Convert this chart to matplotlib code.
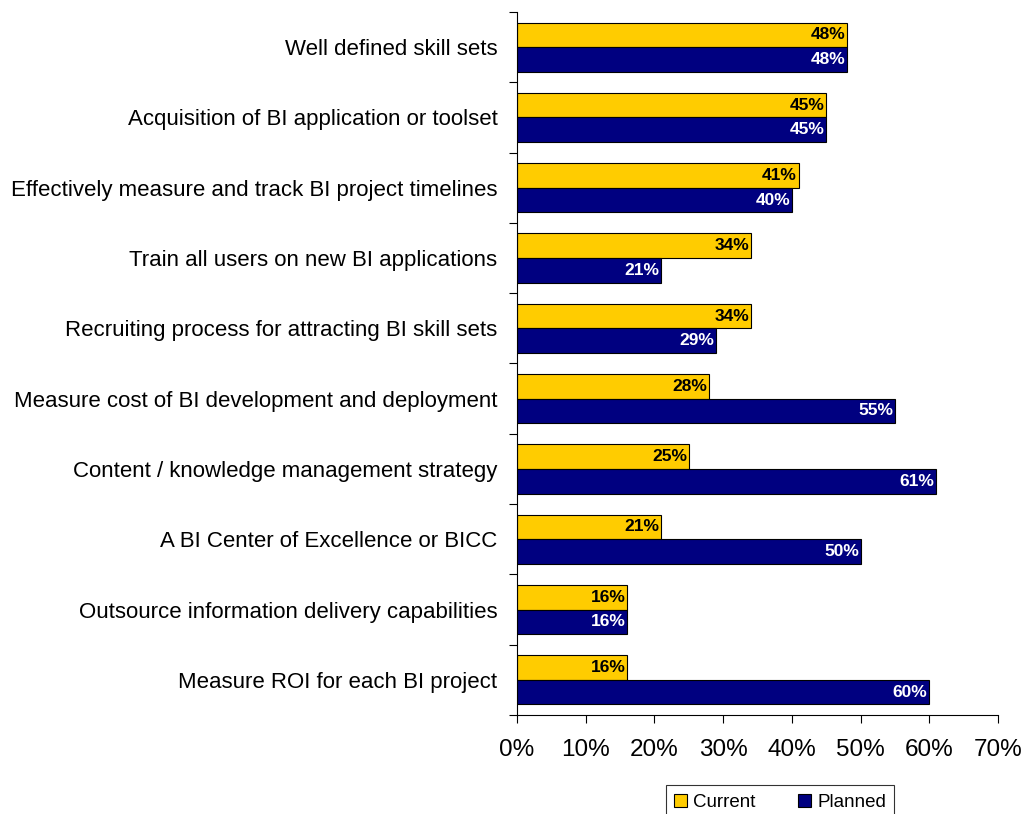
import matplotlib.pyplot as plt
import numpy as np

plt.rcParams['font.family'] = ['Liberation Sans', 'DejaVu Sans']

categories = [
    "Well defined skill sets",
    "Acquisition of BI application or toolset",
    "Effectively measure and track BI project timelines",
    "Train all users on new BI applications",
    "Recruiting process for attracting BI skill sets",
    "Measure cost of BI development and deployment",
    "Content / knowledge management strategy",
    "A BI Center of Excellence or BICC",
    "Outsource information delivery capabilities",
    "Measure ROI for each BI project",
]
current = [48, 45, 41, 34, 34, 28, 25, 21, 16, 16]
planned = [48, 45, 40, 21, 29, 55, 61, 50, 16, 60]
xticks = [0, 10, 20, 30, 40, 50, 60, 70]


def main():
    fig = plt.figure(figsize=(10.23, 8.14), dpi=100)
    ax = fig.add_axes([0.5054, 0.1216, 0.4702, 0.8637])

    n = len(categories)
    y = np.arange(n)[::-1].astype(float)
    h = 0.35

    b1 = ax.barh(y + h / 2, current, height=h, color='#FFCC00',
                 edgecolor='black', linewidth=0.8, label='Current')
    b2 = ax.barh(y - h / 2, planned, height=h, color='#000080',
                 edgecolor='black', linewidth=0.8, label='Planned')

    for bar, v in zip(b1, current):
        ax.text(v - 0.25, bar.get_y() + bar.get_height() / 2, f"{v}%",
                ha='right', va='center', fontsize=12.5, fontweight='bold',
                color='black')
    for bar, v in zip(b2, planned):
        ax.text(v - 0.25, bar.get_y() + bar.get_height() / 2, f"{v}%",
                ha='right', va='center', fontsize=12.5, fontweight='bold',
                color='white')

    ax.set_xlim(0, 70)
    ax.set_ylim(-0.5, n - 0.5)
    ax.set_xticks(xticks)
    ax.set_xticklabels([f"{t}%" for t in xticks], fontsize=17.5)
    ax.tick_params(axis='x', direction='out', length=6, pad=11)

    # category names sit between the boundary ticks
    ax.set_yticks(np.arange(n + 1) - 0.5)
    ax.set_yticklabels([])
    ax.set_yticks(y, minor=True)
    ax.set_yticklabels(categories, minor=True, fontsize=16)
    ax.tick_params(axis='y', which='major', direction='out', length=6)
    ax.tick_params(axis='y', which='minor', length=0, pad=14)

    for s in ('top', 'right'):
        ax.spines[s].set_visible(False)

    leg = fig.legend(handles=[b1, b2], loc='upper center',
                     bbox_to_anchor=(780 / 1023, 1 - 776 / 814), ncol=2,
                     fontsize=13.5, frameon=True, fancybox=False,
                     edgecolor='black', handlelength=0.7, handleheight=0.7,
                     columnspacing=2.3, handletextpad=0.3, borderpad=0.45)
    leg.get_frame().set_linewidth(0.8)

    fig.savefig("out.png", dpi=100)


if __name__ == "__main__":
    main()
